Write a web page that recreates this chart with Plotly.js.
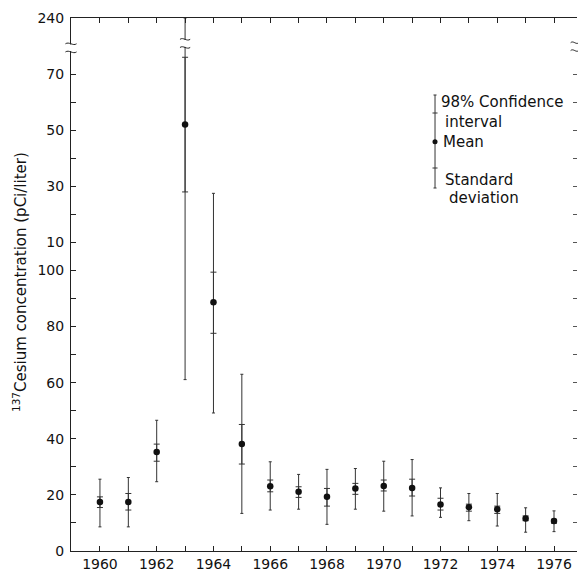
<!DOCTYPE html>
<html>
<head>
<meta charset="utf-8">
<script src="https://cdn.plot.ly/plotly-3.0.1.min.js"></script>
<style>
  html, body { margin: 0; padding: 0; background: #ffffff; }
  #chart { width: 578px; height: 572px; }
</style>
</head>
<body>
<div id="chart"></div>
<script>
// ---- Data ----
const years   = [1960, 1961, 1962, 1963, 1964, 1965, 1966, 1967, 1968, 1969, 1970, 1971, 1972, 1973, 1974, 1975, 1976];
const meanVal = [17.5, 17.5, 35.3, 152, 88.7, 38.1, 23.1, 21.1, 19.3, 22.3, 23.2, 22.5, 16.6, 15.6, 14.9, 11.6, 10.7];
const sdHigh  = [19.3, 20.5, 38.1, 176, 99.4, 45.1, 25.3, 22.9, 22.3, 24.1, 25.3, 25.6, 18.8, 16.7, 16.0, 12.5, 11.3];
const sdLow   = [15.5, 14.6, 32.0, 128, 77.6, 31.0, 21.1, 19.1, 16.0, 20.2, 21.4, 19.6, 14.6, 14.2, 13.4, 10.8, 9.9];
const ciHigh  = [25.6, 26.2, 46.6, 240, 127.5, 63.0, 31.8, 27.3, 29.1, 29.4, 32.0, 32.6, 22.5, 20.5, 20.5, 15.4, 14.3];
const ciLow   = [8.6, 8.6, 24.7, 61.1, 49.2, 13.4, 14.6, 14.9, 9.5, 14.9, 14.2, 12.5, 12.0, 10.8, 8.9, 6.7, 6.9];

const xTickLabels = ["1960", "", "1962", "", "1964", "", "1966", "", "1968", "", "1970", "", "1972", "", "1974", "", "1976"];
const yTickValues = [0, 10, 20, 30, 40, 50, 60, 70, 80, 90, 100, 110, 120, 130, 140, 150, 160, 170, 240];
const yTickText   = ["0", "", "20", "", "40", "", "60", "", "80", "", "100", "10", "", "30", "", "50", "", "70", "240"];
const yRightTicks = [10, 20, 30, 40, 50, 60, 70, 80, 90, 100, 110, 120, 130, 140, 150, 160, 170];

// Broken axis: values above 180 are compressed (180..240 drawn in 10 units)
const BREAK = 180, COMPRESS = 6, YMAX = 240;
const f = v => (v <= BREAK ? v : BREAK + (v - BREAK) / COMPRESS);

const yMean = meanVal.map(f);
const ink = '#222';
const FONT = 'DejaVu Sans';

const traces = [
  { // 98% confidence interval
    type: 'scatter', mode: 'markers', x: years, y: yMean,
    marker: { size: 1, opacity: 0 },
    error_y: { type: 'data', symmetric: false,
      array: ciHigh.map((v, i) => f(v) - yMean[i]),
      arrayminus: ciLow.map((v, i) => yMean[i] - f(v)),
      thickness: 1, width: 1.5, color: '#333' },
    hoverinfo: 'skip', showlegend: false
  },
  { // standard deviation + mean
    type: 'scatter', mode: 'markers', x: years, y: yMean,
    marker: { size: 6.5, color: '#111' },
    error_y: { type: 'data', symmetric: false,
      array: sdHigh.map((v, i) => f(v) - yMean[i]),
      arrayminus: sdLow.map((v, i) => yMean[i] - f(v)),
      thickness: 1, width: 3, color: '#333' },
    showlegend: false
  },
  { // carrier for the right-hand tick axis
    type: 'scatter', mode: 'markers', x: years, y: yMean, yaxis: 'y2',
    marker: { size: 1, opacity: 0 }, hoverinfo: 'skip', showlegend: false
  }
];

const YTOP = f(YMAX);
const X0 = 1958.98, X1 = 1976.81;

function tilde(xc, yc, hw, h, xref) {
  return {
    type: 'path', xref: xref, yref: 'y', layer: 'above',
    path: `M ${xc - hw},${yc} C ${xc - hw / 3},${yc + 2 * h} ${xc + hw / 3},${yc - 2 * h} ${xc + hw},${yc}`,
    line: { color: ink, width: 1 }
  };
}
function gap(xc, hw, y0, y1, xref) {
  return { type: 'rect', xref: xref, yref: 'y', layer: 'above',
    x0: xc - hw, x1: xc + hw, y0: y0, y1: y1,
    fillcolor: '#ffffff', line: { width: 0 } };
}

// legend geometry (paper coordinates)
const lgX = 0.7194;
const py = p => (551 - p) / 533;

const shapes = [
  // break on left axis
  gap(0, 0.012, 178.2, 180.6, 'paper'),
  tilde(0, 180.8, 0.011, 0.45, 'paper'),
  tilde(0, 177.9, 0.011, 0.45, 'paper'),
  // break on 1963 bar
  gap(1963, 0.2, 179.7, 182.2, 'x'),
  tilde(1963, 182.4, 0.18, 0.45, 'x'),
  tilde(1963, 179.5, 0.18, 0.45, 'x'),
  // break on right side
  tilde(0.9955, 181.2, 0.008, 0.45, 'paper'),
  tilde(0.9955, 178.4, 0.008, 0.45, 'paper'),
  // legend key
  { type: 'line', xref: 'paper', yref: 'paper', x0: lgX, x1: lgX, y0: py(188), y1: py(95), line: { color: '#333', width: 1 } },
  { type: 'line', xref: 'paper', yref: 'paper', x0: lgX - 0.003, x1: lgX + 0.003, y0: py(95), y1: py(95), line: { color: '#333', width: 1 } },
  { type: 'line', xref: 'paper', yref: 'paper', x0: lgX - 0.003, x1: lgX + 0.003, y0: py(188), y1: py(188), line: { color: '#333', width: 1 } },
  { type: 'line', xref: 'paper', yref: 'paper', x0: lgX - 0.005, x1: lgX + 0.005, y0: py(113), y1: py(113), line: { color: '#333', width: 1 } },
  { type: 'line', xref: 'paper', yref: 'paper', x0: lgX - 0.005, x1: lgX + 0.005, y0: py(168), y1: py(168), line: { color: '#333', width: 1 } },
  { type: 'circle', xref: 'paper', yref: 'paper', x0: lgX - 0.005, x1: lgX + 0.005, y0: py(144.2), y1: py(139.2), fillcolor: '#111', line: { width: 0 } }
];

const annFont = { family: FONT, size: 15, color: '#111' };
const ann = (text, xp, yp) => ({ text: text, xref: 'paper', yref: 'paper', x: (xp - 71) / 506, y: py(yp),
  xanchor: 'left', yanchor: 'middle', showarrow: false, font: annFont });

const annotations = [
  ann('98% Confidence', 439, 102),
  ann('interval', 443, 122),
  ann('Mean', 441, 142),
  ann('Standard', 443, 180),
  ann('deviation', 447, 198),
  { text: '<sup>137</sup>Cesium concentration (pCi/liter)', xref: 'paper', yref: 'paper',
    x: (20 - 71) / 506, y: py(282), xanchor: 'center', yanchor: 'middle', textangle: -90,
    showarrow: false, font: { family: FONT, size: 15, color: '#111' } }
];

const layout = {
  width: 578, height: 572, autosize: false,
  margin: { l: 71, r: 1, t: 18, b: 21, pad: 0 },
  paper_bgcolor: '#ffffff', plot_bgcolor: '#ffffff',
  showlegend: false,
  xaxis: {
    range: [X0, X1], tickmode: 'array', tickvals: years, ticktext: xTickLabels,
    ticks: 'inside', ticklen: 5, tickcolor: ink, tickwidth: 1,
    showline: true, linecolor: ink, linewidth: 1, mirror: 'ticks',
    showgrid: false, zeroline: false,
    tickfont: { family: FONT, size: 14, color: '#111' }
  },
  yaxis: {
    range: [0, YTOP], tickmode: 'array', tickvals: yTickValues.map(f), ticktext: yTickText,
    ticks: 'inside', ticklen: 5, tickcolor: ink, tickwidth: 1,
    showline: true, linecolor: ink, linewidth: 1,
    showgrid: false, zeroline: false, ticklabelstandoff: 3,
    tickfont: { family: FONT, size: 14, color: '#111' }
  },
  yaxis2: {
    overlaying: 'y', side: 'right', range: [0, YTOP],
    tickmode: 'array', tickvals: yRightTicks.map(f),
    ticks: 'inside', ticklen: 4, tickcolor: '#555', tickwidth: 1,
    showline: false, showticklabels: false, showgrid: false, zeroline: false
  },
  shapes: shapes,
  annotations: annotations
};

Plotly.newPlot('chart', traces, layout, { staticPlot: true, displayModeBar: false });
</script>
</body>
</html>
